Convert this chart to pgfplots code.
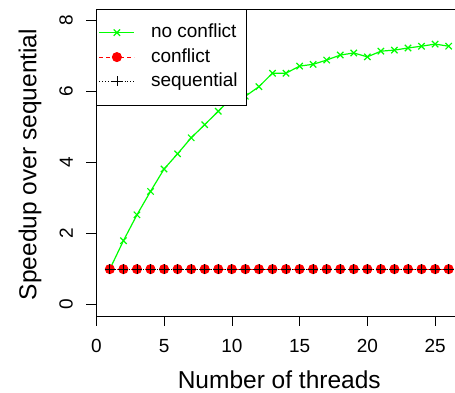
\documentclass[border=0pt]{standalone}
\usepackage{fontspec}
\setmainfont{Liberation Sans}
\usepackage{pgfplots}
\pgfplotsset{compat=1.18}
\definecolor{rgreen}{RGB}{0,255,0}
\begin{document}
\begin{tikzpicture}
\useasboundingbox (0,0) rectangle (455pt,393pt);
\clip (0,0) rectangle (455pt,393pt);
\begin{axis}[
  at={(96.3pt,77pt)}, anchor=south west,
  scale only axis, width=365.9pt, height=306.7pt,
  xmin=0, xmax=27, ymin=-0.32, ymax=8.32,
  xtick={0,5,...,25}, ytick={0,2,...,8},
  xtick pos=bottom, ytick pos=left,
  tick align=outside, major tick length=10pt,
  tick style={black, line width=0.6pt},
  axis line style={line width=0.8pt},
  /pgf/number format/assume math mode=true,
  ticklabel style={font=\fontsize{19}{19}\selectfont},
  xticklabel shift=10pt, yticklabel shift=10pt,
  yticklabel style={rotate=90, anchor=south},
  xlabel={Number of threads}, ylabel={Speedup over sequential},
  label style={font=\fontsize{24.5}{24.5}\selectfont},
  xlabel style={at={(axis description cs:0.5,-0.209)}, anchor=center},
  ylabel style={at={(axis description cs:-0.181,0.494)}, anchor=center, rotate=0},
  legend cell align=left,
  legend style={name=leg, at={(0,1)}, anchor=north west, draw=none, fill=white,
    font=\fontsize{19}{19}\selectfont, row sep=0pt, column sep=14pt,
    inner xsep=2.3pt, inner ysep=11pt,
    nodes={inner xsep=2pt, inner ysep=3.2pt, text height=14pt, text depth=4pt}},
  legend image code/.code={%
    \draw[mark repeat=2,mark phase=2] plot coordinates {(0pt,0pt) (17.5pt,0pt) (35pt,0pt)};},
]
\addplot[color=rgreen, line width=1.2pt, mark=x, mark size=4.5pt] coordinates {
(1,1.00) (2,1.80) (3,2.53) (4,3.19) (5,3.82) (6,4.25) (7,4.70) (8,5.07) (9,5.45) (10,5.82)
(11,5.87) (12,6.14) (13,6.52) (14,6.52) (15,6.72) (16,6.77) (17,6.89) (18,7.03) (19,7.09) (20,6.98)
(21,7.14) (22,7.17) (23,7.23) (24,7.28) (25,7.34) (26,7.28)};
\addlegendentry{\makebox[91pt][l]{no conflict}}
\addplot[color=red, line width=1pt, dash pattern=on 4pt off 3pt, mark=*, mark size=4.5pt, mark options={solid}] coordinates {
(1,1) (2,1) (3,1) (4,1) (5,1) (6,1) (7,1) (8,1) (9,1) (10,1) (11,1) (12,1) (13,1)
(14,1) (15,1) (16,1) (17,1) (18,1) (19,1) (20,1) (21,1) (22,1) (23,1) (24,1) (25,1) (26,1)};
\addlegendentry{\makebox[91pt][l]{conflict}}
\addplot[color=black, line width=0.8pt, dotted, mark=+, mark size=5pt, mark options={solid}] coordinates {
(1,1) (2,1) (3,1) (4,1) (5,1) (6,1) (7,1) (8,1) (9,1) (10,1) (11,1) (12,1) (13,1)
(14,1) (15,1) (16,1) (17,1) (18,1) (19,1) (20,1) (21,1) (22,1) (23,1) (24,1) (25,1) (26,1)};
\addlegendentry{\makebox[91pt][l]{sequential}}
\end{axis}
\draw[black, line width=0.6pt] (leg.south west) rectangle (leg.north east);
\end{tikzpicture}
\end{document}
